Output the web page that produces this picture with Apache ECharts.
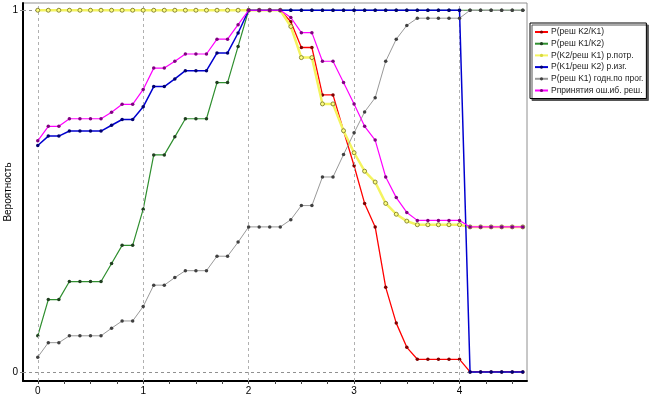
<!DOCTYPE html>
<html><head><meta charset="utf-8">
<script src="https://cdn.jsdelivr.net/npm/echarts@6/dist/echarts.min.js"></script>
<style>html,body{margin:0;padding:0;background:#fff}#c{width:650px;height:398px}</style>
</head><body><div id="c"></div>
<script>
const xValues = [0,0.1,0.2,0.3,0.4,0.5,0.6,0.7,0.8,0.9,1.0,1.1,1.2,1.3,1.4,1.5,1.6,1.7,1.8,1.9,2.0,2.1,2.2,2.3,2.4,2.5,2.6,2.7,2.8,2.9,3.0,3.1,3.2,3.3,3.4,3.5,3.6,3.7,3.8,3.9,4.0,4.1,4.2,4.3,4.4,4.5,4.6];
const seriesNames = ["P(реш K2/K1)","P(реш K1/K2)","P(K2/реш K1) р.потр.","P(K1/реш K2) р.изг.","P(реш K1) годн.по прог.","Рпринятия ош.иб. реш."];
const redVals = [1,1,1,1,1,1,1,1,1,1,1,1,1,1,1,1,1,1,1,1,1,1,1,1,0.968,0.897,0.897,0.766,0.766,0.667,0.57,0.466,0.401,0.234,0.135,0.068,0.035,0.035,0.035,0.035,0.035,0,0,0,0,0,0];
const greenVals = [0.10,0.20,0.20,0.25,0.25,0.25,0.25,0.30,0.35,0.35,0.45,0.60,0.60,0.65,0.70,0.70,0.70,0.80,0.80,0.90,1,1,1,1,1,1,1,1,1,1,1,1,1,1,1,1,1,1,1,1,1,1,1,1,1,1,1];
const yellowVals = [1,1,1,1,1,1,1,1,1,1,1,1,1,1,1,1,1,1,1,1,1,1,1,1,0.955,0.869,0.869,0.741,0.741,0.667,0.606,0.555,0.525,0.466,0.436,0.417,0.407,0.407,0.407,0.407,0.407,0.401,0.401,0.401,0.401,0.401,0.401];
const blueVals = [0.626,0.652,0.652,0.666,0.666,0.666,0.666,0.682,0.698,0.698,0.733,0.789,0.789,0.810,0.833,0.833,0.833,0.882,0.882,0.937,1,1,1,1,1,1,1,1,1,1,1,1,1,1,1,1,1,1,1,1,1,0,0,0,0,0,0];
const grayVals = [0.041,0.081,0.081,0.100,0.100,0.100,0.100,0.121,0.141,0.141,0.181,0.240,0.240,0.261,0.280,0.280,0.280,0.320,0.320,0.359,0.401,0.401,0.401,0.401,0.421,0.460,0.460,0.539,0.539,0.601,0.661,0.719,0.758,0.859,0.920,0.958,0.978,0.978,0.978,0.978,0.978,1,1,1,1,1,1];
const magentaVals = [0.639,0.679,0.679,0.700,0.700,0.700,0.700,0.718,0.740,0.740,0.781,0.840,0.840,0.859,0.879,0.879,0.879,0.920,0.920,0.960,1,1,1,1,0.980,0.938,0.938,0.859,0.859,0.800,0.741,0.679,0.641,0.539,0.482,0.441,0.419,0.419,0.419,0.419,0.419,0.401,0.401,0.401,0.401,0.401,0.401];
const xTickLabels = [0,1,2,3,4];
const xMinorTicks = [0,0.25,0.5,0.75,1,1.25,1.5,1.75,2,2.25,2.5,2.75,3,3.25,3.5,3.75,4,4.25,4.5];
const yTickLabels = [0,1];
const yTitle = "Вероятность";

const allVals = [redVals, greenVals, yellowVals, blueVals, grayVals, magentaVals];
const lineColors = ['#ff0000','#2f8f2f','#f4f460','#0000d0','#999999','#ff00ff'];
const markColors = ['#800000','#1f3f1f','#ffff80','#000070','#404040','#800080'];
const lineWidths = [1.3,1.2,2.5,1.5,1,1.2];

const series = allVals.map((vals, i) => ({
  name: seriesNames[i],
  type: 'line',
  data: xValues.map((x, j) => [x, vals[j]]),
  symbol: 'circle',
  symbolSize: i === 2 ? 4 : 3.5,
  showSymbol: true,
  lineStyle: {color: lineColors[i], width: lineWidths[i]},
  itemStyle: i === 2 ? {color: '#ffff80', borderColor: '#707020', borderWidth: 0.8} : {color: markColors[i], borderWidth: 0},
  emphasis: {disabled: true},
  animation: false,
  z: 3 + i
}));
series.push({
  type: 'line', data: [], silent: true, z: 1,
  markLine: {
    silent: true, symbol: 'none', label: {show: false}, animation: false,
    data: xTickLabels.map(v => ({xAxis: v, lineStyle: {color: '#b0b0b0', type: [3,3], width: 1}}))
      .concat(yTickLabels.map(v => ({yAxis: v, lineStyle: {color: '#909090', type: [3,3], width: 1}})))
  }
});

const chart = echarts.init(document.getElementById('c'), null, {renderer: 'canvas'});
chart.setOption({
  animation: false,
  backgroundColor: '#ffffff',
  textStyle: {fontFamily: 'Liberation Sans, Arial, sans-serif'},
  grid: {left: 23, right: 123, top: 3, bottom: 17, outerBoundsMode: 'none', containLabel: false, show: true, borderColor: '#909090', borderWidth: 1, backgroundColor: '#fff'},
  legend: {
    orient: 'vertical', left: 530, top: 23,
    data: seriesNames.map((n, i) => i === 2 ? {name: n, itemStyle: {borderWidth: 0, color: '#d8d840'}} : {name: n}),
    backgroundColor: '#fff', borderColor: '#000', borderWidth: 1,
    shadowColor: '#555', shadowOffsetX: 2, shadowOffsetY: 2, shadowBlur: 0,
    padding: [4, 3, 3, 4], itemGap: 1.7, itemWidth: 13, itemHeight: 4,
    textStyle: {fontSize: 8.5, color: '#222', padding: [0,0,0,-2], lineHeight: 10},
    selectedMode: false
  },
  xAxis: {
    type: 'value', min: -0.14, max: 4.64,
    axisLine: {onZero: false, lineStyle: {color: '#000', width: 2}},
    axisTick: {show: true, length: 3, customValues: xMinorTicks, lineStyle: {color: '#444'}},
    axisLabel: {customValues: xTickLabels, fontSize: 10, color: '#000', margin: 5},
    splitLine: {show: false}
  },
  yAxis: {
    type: 'value', min: -0.025, max: 1.02,
    name: yTitle, nameLocation: 'middle', nameGap: 15, nameRotate: 90, nameMoveOverlap: false,
    nameTextStyle: {fontSize: 10, color: '#000', verticalAlign: 'middle'},
    axisLine: {onZero: false, lineStyle: {color: '#000', width: 2}},
    axisTick: {show: true, length: 3, customValues: yTickLabels, lineStyle: {color: '#888'}},
    axisLabel: {customValues: yTickLabels, fontSize: 10, color: '#000', margin: 5},
    splitLine: {show: false}
  },
  series: series
});
</script></body></html>
